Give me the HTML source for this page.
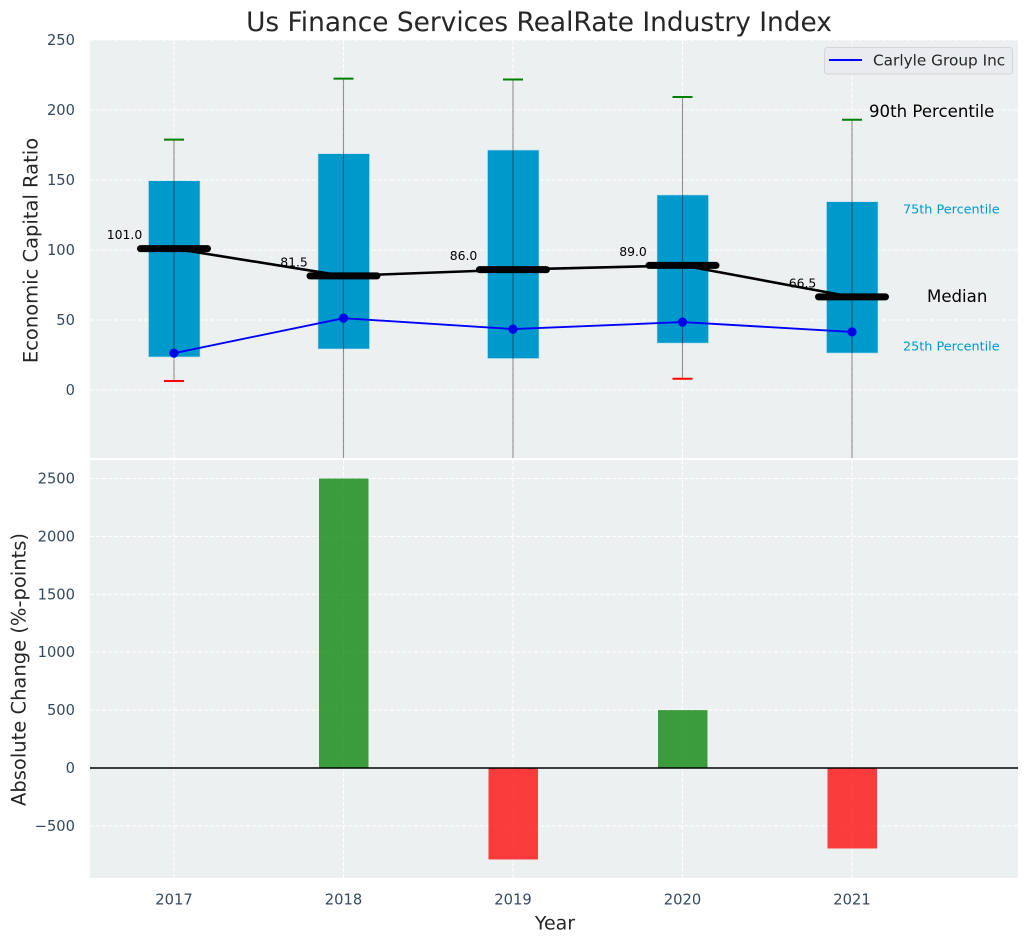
<!DOCTYPE html>
<html lang="en">
<head>
<meta charset="utf-8">
<title>Us Finance Services RealRate Industry Index</title>
<style>
html,body{margin:0;padding:0;background:#fff;width:1029px;height:942px;overflow:hidden}
svg{display:block;font-family:"DejaVu Sans","Liberation Sans",sans-serif}
</style>
</head>
<body>
<svg id="chart" xmlns="http://www.w3.org/2000/svg" width="1029" height="942" viewBox="0 0 1029 942"></svg>
<script>
const years = [2017, 2018, 2019, 2020, 2021];
const p90 = [178.8, 222.4, 221.8, 209.3, 193];
const p75 = [149.5, 168.8, 171.4, 139.3, 134.5];
const medians = [101, 81.5, 86, 89, 66.5];
const p25 = [23.6, 29.3, 22.5, 33.5, 26.4];
const p10 = [6.4, -120, -150, 8, -130];
const carlyle = [26.3, 51.3, 43.5, 48.5, 41.5];
const changes = [0, 2500, -790, 500, -695];
const topTicks = [0, 50, 100, 150, 200, 250];
const bottomTicks = [-500, 0, 500, 1000, 1500, 2000, 2500];

const NS = 'http://www.w3.org/2000/svg';
const svg = document.getElementById('chart');
const TOP = {x0: 90, x1: 1018, y0: 40, y1: 458};
const BOT = {x0: 90, x1: 1018, y0: 460, y1: 878};
const xScale = function (year) { return 174 + (year - 2017) * 169.5; };
const yTop = function (v) { return 390 - v * 1.4; };
const yBot = function (v) { return 768 - v * 0.1158; };

function make(tag, attrs, parent, text) {
  const el = document.createElementNS(NS, tag);
  for (const k in attrs) el.setAttribute(k, attrs[k]);
  if (text !== undefined) el.textContent = text;
  (parent || svg).appendChild(el);
  return el;
}

const defs = make('defs', {});
const clip = make('clipPath', {id: 'top-clip'}, defs);
make('rect', {x: TOP.x0, y: TOP.y0, width: TOP.x1 - TOP.x0, height: TOP.y1 - TOP.y0}, clip);

const topBg = make('rect', {x: TOP.x0, y: TOP.y0, width: TOP.x1 - TOP.x0, height: TOP.y1 - TOP.y0, fill: '#ecf0f1'});


const botBg = make('rect', {x: BOT.x0, y: BOT.y0, width: BOT.x1 - BOT.x0, height: BOT.y1 - BOT.y0, fill: '#ecf0f1'});



const gridStyle = {stroke: '#ffffff', 'stroke-width': 1.1, 'stroke-dasharray': '4 2'};
function gridLine(x1, y1, x2, y2) {
  const ln = make('line', Object.assign({x1: x1, y1: y1, x2: x2, y2: y2}, gridStyle));
  
  
}
years.forEach(function (yr) {
  gridLine(xScale(yr), TOP.y0, xScale(yr), TOP.y1);
  gridLine(xScale(yr), BOT.y0, xScale(yr), BOT.y1);
});
topTicks.forEach(function (t) { gridLine(TOP.x0, yTop(t), TOP.x1, yTop(t)); });
bottomTicks.forEach(function (t) { gridLine(BOT.x0, yBot(t), BOT.x1, yBot(t)); });

const tickColor = '#34495e';
topTicks.forEach(function (t) {
  const lab = make('text', {x: 75, y: yTop(t) + 5, 'text-anchor': 'end', 'font-size': 14.7, fill: tickColor}, svg, String(t));
  
  
});
bottomTicks.forEach(function (t) {
  const lab = make('text', {x: 75, y: yBot(t) + 5, 'text-anchor': 'end', 'font-size': 14.7, fill: tickColor}, svg, String(t).replace('-', '\u2212'));
  
  
});
years.forEach(function (yr) {
  const lab = make('text', {x: xScale(yr), y: 904.5, 'text-anchor': 'middle', 'font-size': 14.7, fill: tickColor}, svg, String(yr));
  
  
});

const topGroup = make('g', {'clip-path': 'url(#top-clip)'});



years.forEach(function (yr, i) {
  const cx = xScale(yr);
  const box = make('rect', {x: cx - 25.5, y: yTop(p75[i]), width: 51.5, height: yTop(p25[i]) - yTop(p75[i]), fill: '#0099cc', stroke: '#b9e2ee', 'stroke-width': 0.6}, topGroup);
  
  
});
years.forEach(function (yr, i) {
  const cx = xScale(yr);
  const whisk = make('line', {x1: cx, y1: yTop(p90[i]), x2: cx, y2: yTop(p10[i]), stroke: '#000', 'stroke-opacity': 0.42, 'stroke-width': 1.1}, topGroup);
  
  
  const capHi = make('line', {x1: cx - 10, y1: yTop(p90[i]), x2: cx + 10, y2: yTop(p90[i]), stroke: '#008000', 'stroke-width': 2}, topGroup);
  
  
  const capLo = make('line', {x1: cx - 10, y1: yTop(p10[i]), x2: cx + 10, y2: yTop(p10[i]), stroke: '#ff0000', 'stroke-width': 2}, topGroup);
  
  
  const lab = make('text', {x: cx - 49.5, y: yTop(medians[i]) - 9.5, 'text-anchor': 'middle', 'font-size': 12.4, fill: '#000'}, topGroup, medians[i].toFixed(1));
  
  
});

const medianPath = make('polyline', {points: years.map(function (yr, i) { return xScale(yr) + ',' + yTop(medians[i]); }).join(' '), fill: 'none', stroke: '#000', 'stroke-width': 2.6}, topGroup);


years.forEach(function (yr, i) {
  const cx = xScale(yr);
  const med = make('line', {x1: cx - 33.5, y1: yTop(medians[i]), x2: cx + 33.5, y2: yTop(medians[i]), stroke: '#000', 'stroke-width': 7, 'stroke-linecap': 'round'}, topGroup);
  
  
});

const bluePath = make('polyline', {points: years.map(function (yr, i) { return xScale(yr) + ',' + yTop(carlyle[i]); }).join(' '), fill: 'none', stroke: '#0000ff', 'stroke-width': 1.9}, topGroup);


years.forEach(function (yr, i) {
  const dot = make('circle', {cx: xScale(yr), cy: yTop(carlyle[i]), r: 4.6, fill: '#0000e6'}, topGroup);
  
  
});

years.forEach(function (yr, i) {
  if (changes[i] === 0) return;
  const y0 = yBot(Math.max(changes[i], 0));
  const y1 = yBot(Math.min(changes[i], 0));
  const bar = make('rect', {x: xScale(yr) - 24.5, y: y0, width: 49.5, height: y1 - y0, fill: changes[i] > 0 ? '#008000' : '#ff0000', 'fill-opacity': 0.75});
  
  
});
const zero = make('line', {x1: BOT.x0, y1: yBot(0), x2: BOT.x1, y2: yBot(0), stroke: '#000', 'stroke-width': 1.6});



const legendBox = make('rect', {x: 824.5, y: 47.5, width: 188, height: 26.5, rx: 3, fill: '#eaebef', stroke: '#d4d5da', 'stroke-width': 1});


const legendLine = make('line', {x1: 829, y1: 60, x2: 862, y2: 60, stroke: '#0000ff', 'stroke-width': 1.9});


const legendText = make('text', {x: 873, y: 65.5, 'font-size': 15.3, fill: '#262626'}, svg, 'Carlyle Group Inc');



const p90Text = make('text', {x: 869, y: 117, 'font-size': 16.6, fill: '#000'}, svg, '90th Percentile');


const p75Text = make('text', {x: 903, y: 213.5, 'font-size': 12.8, fill: '#0099cc'}, svg, '75th Percentile');


const medText = make('text', {x: 927, y: 302, 'font-size': 16.6, fill: '#000'}, svg, 'Median');


const p25Text = make('text', {x: 903, y: 350.5, 'font-size': 12.8, fill: '#0099cc'}, svg, '25th Percentile');



const title = make('text', {x: 539, y: 31, 'text-anchor': 'middle', 'font-size': 26.4, fill: '#262626'}, svg, 'Us Finance Services RealRate Industry Index');


const yTitleTop = make('text', {transform: 'translate(37.5,250.5) rotate(-90)', 'text-anchor': 'middle', 'font-size': 19.5, fill: '#262626'}, svg, 'Economic Capital Ratio');


const yTitleBot = make('text', {transform: 'translate(25.5,669.5) rotate(-90)', 'text-anchor': 'middle', 'font-size': 19.5, fill: '#262626'}, svg, 'Absolute Change (%-points)');


const xTitle = make('text', {x: 555, y: 929.5, 'text-anchor': 'middle', 'font-size': 19, fill: '#262626'}, svg, 'Year');


</script>
</body>
</html>
